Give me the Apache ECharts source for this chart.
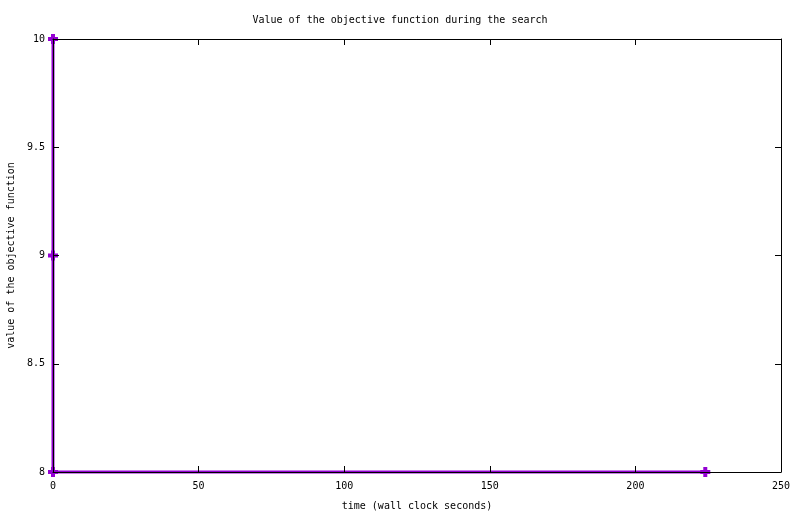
<!DOCTYPE html>
<html><head><meta charset="utf-8">
<script src="https://cdn.jsdelivr.net/npm/echarts@6/dist/echarts.min.js"></script>
<style>html,body{margin:0;padding:0;background:#fff}#c{width:800px;height:514px}</style>
</head><body><div id="c"></div>
<script>
const titleText = "Value of the objective function during the search";
const xName = "time (wall clock seconds)";
const yName = "value of the objective function";
const times = [0, 0, 0, 224];
const values = [10, 9, 8, 8];
const xTicks = [0, 50, 100, 150, 200, 250];
const yTicks = [8, 8.5, 9, 9.5, 10];

const font = "'DejaVu Sans Mono', monospace";
const data = times.map((t, i) => [t, values[i]]);
const plus = 'path://M3,0H7V3H10V7H7V10H3V7H0V3H3Z';
const axisCommon = () => ({
  z: 5,
  axisLine: {show: true, onZero: false, lineStyle: {color: '#000', width: 1}},
  axisTick: {show: true, inside: true, length: 6, lineStyle: {color: '#000'}},
  splitLine: {show: false}
});
const chart = echarts.init(document.getElementById('c'));
chart.setOption({
  animation: false,
  title: {text: titleText, left: 'center', top: 10,
    textStyle: {fontFamily: font, fontSize: 10, fontWeight: 'normal', color: '#000'}},
  grid: {left: 53, right: 19, top: 39, bottom: 42, containLabel: false, outerBoundsMode: 'none'},
  xAxis: [
    Object.assign({type: 'value', min: xTicks[0], max: xTicks[xTicks.length-1], interval: 50,
      position: 'bottom', name: xName, nameLocation: 'middle', nameGap: 29,
      nameTextStyle: {fontFamily: font, fontSize: 10, color: '#000'},
      axisLabel: {fontFamily: font, fontSize: 10, color: '#000', margin: 9}}, axisCommon()),
    Object.assign({type: 'value', min: xTicks[0], max: xTicks[xTicks.length-1], interval: 50,
      position: 'top', axisLabel: {show: false}}, axisCommon())
  ],
  yAxis: [
    Object.assign({type: 'value', min: yTicks[0], max: yTicks[yTicks.length-1], interval: 0.5,
      position: 'left', name: yName, nameLocation: 'middle', nameGap: 37,
      nameTextStyle: {fontFamily: font, fontSize: 10, color: '#000'},
      axisLabel: {fontFamily: font, fontSize: 10, color: '#000', margin: 8}}, axisCommon()),
    Object.assign({type: 'value', min: yTicks[0], max: yTicks[yTicks.length-1], interval: 0.5,
      position: 'right', axisLabel: {show: false}}, axisCommon())
  ],
  series: [{
    type: 'line', data: data, xAxisIndex: 0, yAxisIndex: 0,
    lineStyle: {color: '#9400d3', width: 3},
    itemStyle: {color: '#9400d3'},
    symbol: plus, symbolSize: 10, showAllSymbol: true, clip: false, z: 1
  }]
});
</script></body></html>
